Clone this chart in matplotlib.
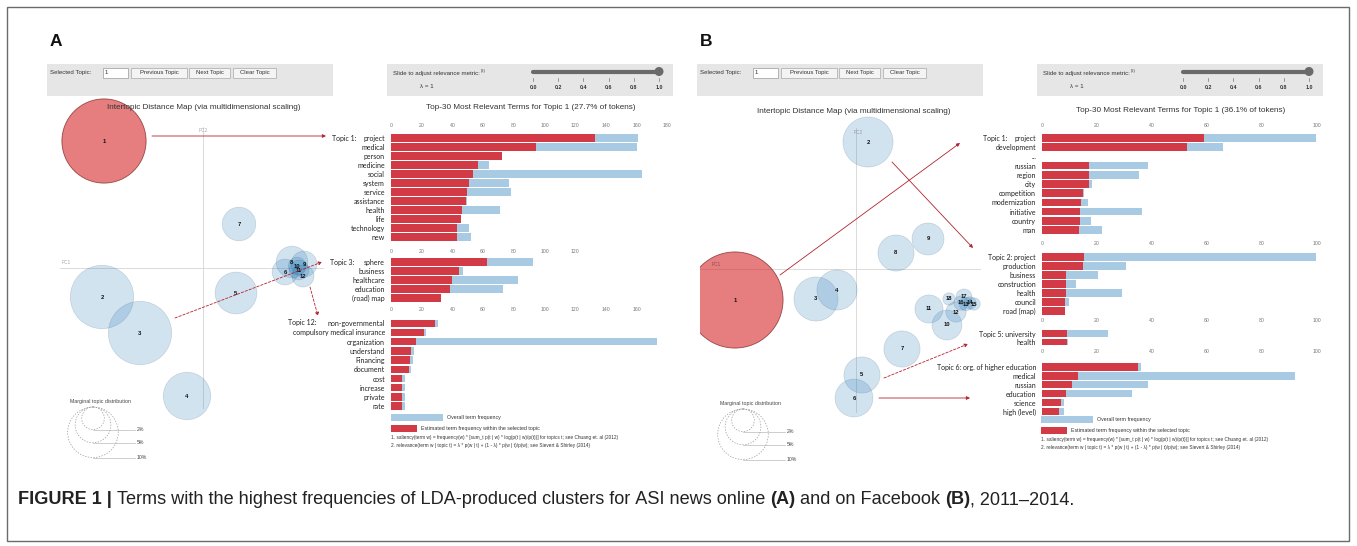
import matplotlib
matplotlib.use("Agg")
import matplotlib.pyplot as plt
from matplotlib.patches import Rectangle, Circle
from matplotlib.transforms import Bbox
from matplotlib import font_manager
import numpy as np

W, H = 1357, 546

# ======================= DATA =======================
# ---- Panel A : bar blocks ----
a1_terms = ["project", "medical", "person", "medicine", "social", "system", "service",
            "assistance", "health", "life", "technology", "new"]
a1_overall = [161.0, 160.0, 72.6, 63.8, 163.8, 76.9, 78.4, 49.5, 70.9, 45.9, 50.6, 52.1]
a1_topic = [132.8, 94.4, 72.6, 56.6, 53.2, 51.0, 49.5, 49.1, 46.3, 45.9, 43.3, 43.1]

a3_terms = ["sphere", "business", "healthcare", "education", "(road) map"]
a3_overall = [92.2, 47.0, 82.6, 73.0, 32.5]
a3_topic = [62.8, 44.2, 40.0, 38.2, 32.5]

a12_terms = ["non-governmental", "compulsory medical insurance", "organization", "understand",
             "Financing", "document", "cost", "increase", "private", "rate"]
a12_overall = [30.4, 22.8, 173.0, 14.8, 14.1, 13.3, 9.1, 9.1, 9.3, 9.1]
a12_topic = [28.9, 21.3, 16.5, 13.0, 12.2, 11.5, 7.4, 7.4, 7.4, 7.2]

# ---- Panel B : bar blocks ----
b1_terms = ["project", "development", "...", "russian", "region", "city", "competition",
            "modernization", "initiative", "country", "man"]
b1_overall = [99.8, 65.7, np.nan, 38.5, 35.2, 18.3, 15.2, 16.8, 36.4, 17.9, 21.7]
b1_topic = [59.0, 52.7, np.nan, 17.2, 17.2, 17.2, 14.8, 14.2, 13.9, 13.9, 13.6]

b2_terms = ["project", "production", "business", "construction", "health", "council", "road (map)"]
b2_overall = [99.8, 30.5, 20.5, 12.2, 29.0, 9.9, 8.2]
b2_topic = [15.2, 14.8, 8.8, 8.6, 8.6, 8.4, 8.2]

b5_terms = ["university", "health"]
b5_overall = [24.0, 9.5]
b5_topic = [9.1, 9.1]

b6_terms = ["org. of higher education", "medical", "russian", "education", "science", "high (level)"]
b6_overall = [36.1, 92.1, 38.5, 32.7, 7.9, 8.1]
b6_topic = [34.9, 13.0, 10.9, 8.8, 6.9, 6.2]

# ---- Intertopic distance maps (PC1, PC2, marginal share in %) ----
a_topics = [1, 2, 3, 4, 5, 6, 7, 8, 9, 10, 11, 12]
a_pc1 = [-0.099, -0.101, -0.063, -0.016, 0.033, 0.082, 0.036, 0.089, 0.101, 0.094, 0.096, 0.100]
a_pc2 = [0.127, -0.029, -0.065, -0.128, -0.025, -0.004, 0.044, 0.006, 0.004, 0.002, -0.002, -0.008]
a_share = [27.7, 15.7, 15.7, 8.8, 6.8, 2.6, 4.4, 3.9, 2.6, 1.2, 1.5, 1.9]

b_topics = list(range(1, 19))
b_pc1 = [-0.121, 0.012, -0.040, -0.019, 0.006, -0.002, 0.046, 0.040, 0.072, 0.091, 0.073,
         0.100, 0.110, 0.114, 0.118, 0.105, 0.108, 0.093]
b_pc2 = [-0.031, 0.127, -0.030, -0.021, -0.106, -0.129, -0.080, 0.016, 0.030, -0.056, -0.040,
         -0.043, -0.035, -0.034, -0.035, -0.034, -0.028, -0.030]
b_share = [36.1, 9.8, 7.6, 6.3, 5.1, 5.6, 5.1, 5.1, 4.0, 3.5, 3.1, 1.6, 0.7, 0.6, 0.6, 0.8, 1.0, 0.6]

guide_shares = [2, 5, 10]
guide_labels = ["2%", "5%", "10%"]
lambda_ticks = [0.0, 0.2, 0.4, 0.6, 0.8, 1.0]
lambda_value = 1.0

a_ticks_top = [0, 20, 40, 60, 80, 100, 120, 140, 160, 180]
a_ticks_mid = [0, 20, 40, 60, 80, 100, 120]
a_ticks_low = [0, 20, 40, 60, 80, 100, 120, 140, 160]
b_ticks = [0, 20, 40, 60, 80, 100]

# ======================= STYLE =======================
RED_BAR = "#d23a46"
BLUE_BAR = "#a8cae2"
BUB_BLUE = (31/255, 119/255, 180/255, 0.2)
BUB_RED = (214/255, 39/255, 40/255, 0.6)
ARROW = "#b3222d"
UI = "Liberation Sans"
LAB = "Lato"
R_SCALE = 0.0080        # bubble radius per sqrt(% share) in PC units
PX = 1000.0             # pixels per PC unit

fig = plt.figure(figsize=(W / 100, H / 100), dpi=100)
fig.patch.set_facecolor("white")
renderer = fig.canvas.get_renderer()


def px_axes(x0, y0, x1, y1):
    ax = fig.add_axes([x0 / W, 1 - y1 / H, (x1 - x0) / W, (y1 - y0) / H])
    ax.patch.set_alpha(0)
    return ax


def bar_block(x0, xmax, ppu, y_first, step, terms, overall, topic, labels=None,
              top_ticks=None, top_pad=4, bottom_ticks=None, bottom_pad=4, clipx=None):
    n = len(terms)
    ya = y_first - step / 2
    ax = px_axes(x0, ya, x0 + xmax * ppu, ya + n * step)
    ax.set_xlim(0, xmax)
    ax.set_ylim(n - 0.5, -0.5)
    idx = np.arange(n)
    ax.barh(idx, overall, height=0.82, color=BLUE_BAR, zorder=1)
    ax.barh(idx, topic, height=0.82, color=RED_BAR, zorder=2)
    for s in ax.spines.values():
        s.set_visible(False)
    ax.set_yticks(idx)
    ax.set_yticklabels(labels if labels is not None else terms, family=LAB, fontsize=5.0,
                       color="#222")
    ax.tick_params(axis="y", length=0, pad=4.3)
    if top_ticks is not None:
        ax.xaxis.tick_top()
        ax.set_xticks(top_ticks)
        ax.set_xticklabels([str(t) for t in top_ticks], family=UI, fontsize=3.7, color="#777")
        ax.tick_params(axis="x", length=0, pad=top_pad)
        labs = ax.get_xticklabels()
    else:
        ax.set_xticks([])
        labs = []
    if bottom_ticks is not None:
        sec = ax.secondary_xaxis("bottom")
        sec.set_xticks(bottom_ticks)
        sec.set_xticklabels([str(t) for t in bottom_ticks], family=UI, fontsize=3.7, color="#777")
        sec.tick_params(length=0, pad=bottom_pad)
        sec.spines["bottom"].set_visible(False)
        labs = list(labs) + list(sec.get_xticklabels())
    if clipx is not None:
        for lab in labs:
            lab.set_clip_box(Bbox.from_extents(0, 0, clipx, H))
            lab.set_clip_on(True)
    return ax


def bubble_map(x0, y0, x1, y1, ox, oy, topics, pc1, pc2, share, selected, pc1_px, pc2_px):
    ax = px_axes(x0, y0, x1, y1)
    ax.set_xlim((x0 - ox) / PX, (x1 - ox) / PX)
    ax.set_ylim((oy - y1) / PX, (oy - y0) / PX)
    ax.axis("off")
    ax.plot([(pc1_px[0] - ox) / PX, (pc1_px[1] - ox) / PX], [0, 0], color="#d4d4d4", lw=0.6, zorder=0)
    ax.plot([0, 0], [(oy - pc2_px[1]) / PX, (oy - pc2_px[0]) / PX], color="#d4d4d4", lw=0.6, zorder=0)
    for t, x, y, s in zip(topics, pc1, pc2, share):
        r = R_SCALE * np.sqrt(s)
        if t == selected:
            c = Circle((x, y), r, facecolor=BUB_RED, edgecolor=(0.45, 0.1, 0.1, 0.7), lw=0.6, zorder=2)
        else:
            c = Circle((x, y), r, facecolor=BUB_BLUE, edgecolor=(0.1, 0.25, 0.4, 0.18), lw=0.5, zorder=2)
        ax.add_patch(c)
    for t, x, y in zip(topics, pc1, pc2):
        ax.text(x, y, str(t), ha="center", va="center", fontsize=4.2, fontweight="bold",
                family=UI, color="#111", zorder=4)
    return ax


# ---------------- Bubble maps ----------------
bubble_map(47, 95, 335, 470, 203, 268, a_topics, a_pc1, a_pc2, a_share, 1, (60, 323), (127, 408))
bubble_map(700, 95, 990, 470, 856, 269, b_topics, b_pc1, b_pc2, b_share, 1, (700, 980), (128, 412))

# ---------------- Bars panel A ----------------
A_X0, A_PPU = 391, 1.535
bar_block(A_X0, 180, A_PPU, 138, 9.0, a1_terms, a1_overall, a1_topic,
          top_ticks=a_ticks_top, top_pad=4.0, bottom_ticks=a_ticks_mid, bottom_pad=5.5)
bar_block(A_X0, 180, A_PPU, 262, 9.0, a3_terms, a3_overall, a3_topic,
          bottom_ticks=a_ticks_low, bottom_pad=3.5)
bar_block(A_X0, 180, A_PPU, 323.3, 9.2, a12_terms, a12_overall, a12_topic)

# ---------------- Bars panel B ----------------
B_X0, B_PPU = 1042, 2.75
bar_block(B_X0, 100, B_PPU, 138, 9.2, b1_terms, b1_overall, b1_topic,
          top_ticks=b_ticks, top_pad=4.0, clipx=1321)
bar_block(B_X0, 100, B_PPU, 257, 9.0, b2_terms, b2_overall, b2_topic,
          labels=["Topic 2: " + b2_terms[0]] + b2_terms[1:],
          top_ticks=b_ticks, top_pad=5.0, bottom_ticks=b_ticks, bottom_pad=1.5, clipx=1321)
bar_block(B_X0, 100, B_PPU, 333.5, 8.5, b5_terms, b5_overall, b5_topic,
          labels=["Topic 5: " + b5_terms[0]] + b5_terms[1:],
          bottom_ticks=b_ticks, bottom_pad=2.0, clipx=1321)
bar_block(B_X0, 100, B_PPU, 367, 8.9, b6_terms, b6_overall, b6_topic,
          labels=["Topic 6: " + b6_terms[0]] + b6_terms[1:])

# ======================= OVERLAY (decorations, pixel coords) =======================
ov = fig.add_axes([0, 0, 1, 1])
ov.set_xlim(0, W)
ov.set_ylim(H, 0)
ov.axis("off")
ov.patch.set_alpha(0)


def T(x, y, s, size, ha="left", va="center", **kw):
    kw.setdefault("family", UI)
    kw.setdefault("color", "#222")
    return ov.text(x, y, s, fontsize=size, ha=ha, va=va, **kw)


def box(x0, y0, x1, y1, fc, ec="none", lw=0.6, z=1):
    ov.add_patch(Rectangle((x0, y0), x1 - x0, y1 - y0, facecolor=fc, edgecolor=ec, lw=lw, zorder=z))


# outer frame
box(7, 7, 1349, 541, "none", ec="#6b6b6b", lw=1.0)

for dx, lab, map_title, bar_title, ty_map, ty_bar in [
        (0, "A", "Intertopic Distance Map (via multidimensional scaling)",
         "Top-30 Most Relevant Terms for Topic 1 (27.7% of tokens)", 107.5, 107.5),
        (650, "B", "Intertopic Distance Map (via multidimensional scaling)",
         "Top-30 Most Relevant Terms for Topic 1 (36.1% of tokens)", 111.5, 110.0)]:
    T(50 + dx, 42, lab, 12.5, fontweight="bold", color="#111")
    # toolbar
    box(47 + dx, 64, 333 + dx, 96, "#e6e6e6")
    T(50 + dx, 72.8, "Selected Topic:", 4.4, color="#333")
    box(103 + dx, 67.8, 128 + dx, 78, "white", ec="#9a9a9a", lw=0.5, z=2)
    T(105 + dx, 72.8, "1", 4.4, color="#333", zorder=3)
    for bx0, bx1, txt in [(131, 187, "Previous Topic"), (189, 230, "Next Topic"), (233, 276, "Clear Topic")]:
        box(bx0 + dx, 67.8, bx1 + dx, 78, "#f4f4f4", ec="#a8a8a8", lw=0.5, z=2)
        T((bx0 + bx1) / 2 + dx, 72.8, txt, 4.3, ha="center", color="#333", zorder=3)
    # slider box
    box(387 + dx, 64, 673 + dx, 96, "#e6e6e6")
    t = T(393 + dx, 73.5, "Slide to adjust relevance metric:", 4.4, color="#333")
    tw = t.get_window_extent(renderer).width
    T(393 + dx + tw + 0.8, 71.0, "(2)", 2.8, color="#333")
    T(427 + dx, 87, "\u03bb = " + str(int(lambda_value)), 4.4, ha="center", color="#333")
    sx0, sx1 = 533 + dx, 659 + dx
    ov.plot([sx0, sx0 + (sx1 - sx0) * lambda_value], [71.5, 71.5], color="#6a6a6a", lw=3.0,
            solid_capstyle="round", zorder=3)
    ov.add_patch(Circle((sx0 + (sx1 - sx0) * lambda_value, 71.5), 3.8, color="#6a6a6a", zorder=4))
    for lt in lambda_ticks:
        xx = sx0 + (sx1 - sx0) * lt
        ov.plot([xx, xx], [77.5, 80.5], color="#777", lw=0.5, zorder=3)
        T(xx, 87.5, "%.1f" % lt, 3.8, ha="center", color="#333", fontweight="bold")
    # titles
    T(204 + dx, ty_map, map_title, 5.9, ha="center", color="#333")
    T(531 + dx, ty_bar, bar_title, 5.9, ha="center", color="#333")
    # marginal topic distribution legend
    gx, gtop = 93 + dx, 407 + (2 if dx else 0)
    T(101 + dx, gtop - 6, "Marginal topic distribution", 3.8, ha="center", color="#444")
    for sh, gl in zip(guide_shares, guide_labels):
        r = R_SCALE * PX * np.sqrt(sh)
        ov.add_patch(Circle((gx, gtop + r), r, facecolor="none", edgecolor="#9a9a9a", lw=0.5,
                            linestyle=(0, (2, 2)), zorder=3))
        ov.plot([gx, gx + 42], [gtop + 2 * r, gtop + 2 * r], color="#bbbbbb", lw=0.5, zorder=3)
        T(gx + 44, gtop + 2 * r, gl, 3.7, color="#444")
    # bar legend + footnotes
    ly = 414 if dx == 0 else 416
    box(391 + dx, ly, 443 + dx, ly + 7, BLUE_BAR, z=2)
    T(447 + dx, ly + 3.5, "Overall term frequency", 3.8, color="#333")
    box(391 + dx, ly + 11, 417 + dx, ly + 18, RED_BAR, z=2)
    T(421 + dx, ly + 14.5, "Estimated term frequency within the selected topic", 3.8, color="#333")
    T(391 + dx, ly + 24, "1. saliency(term w) = frequency(w) * [sum_t p(t | w) * log(p(t | w)/p(t))] "
      "for topics t; see Chuang et. al (2012)", 3.45, color="#333")
    T(391 + dx, ly + 32, "2. relevance(term w | topic t) = \u03bb * p(w | t) + (1 - \u03bb) * p(w | t)/p(w); "
      "see Sievert & Shirley (2014)", 3.45, color="#333")

# PC labels
T(203, 130, "PC2", 3.4, ha="center", color="#aaa")
T(62, 263, "PC1", 3.4, color="#aaa")
T(858, 132, "PC2", 3.4, ha="center", color="#999", zorder=5)
T(712, 264, "PC1", 3.4, color="#8a5050", zorder=5)

# topic prefixes
T(332, 138, "Topic 1:", 5.0, family=LAB)
T(330, 262, "Topic 3:", 5.0, family=LAB)
T(288, 322.5, "Topic 12:", 5.0, family=LAB)
T(983, 138, "Topic 1:", 5.0, family=LAB)


def arrow(p0, p1, ls="-"):
    ov.annotate("", xy=p1, xytext=p0,
                arrowprops=dict(arrowstyle="-|>", color=ARROW, lw=0.6, linestyle=ls,
                                mutation_scale=5, shrinkA=0, shrinkB=0), zorder=6)


arrow((152, 136), (326, 136))
arrow((175, 318), (322, 262), ls=(0, (3, 2)))
arrow((310, 287), (318, 316), ls=(0, (3, 2)))
arrow((780, 275), (960, 143))
arrow((892, 162), (973, 248))
arrow((884, 378), (968, 344), ls=(0, (3, 2)))
arrow((879, 398), (970, 398))

# ---------------- caption ----------------
try:
    font_manager.findfont("Liberation Sans Narrow", fallback_to_default=False)
    CAP = "Liberation Sans Narrow"
except Exception:
    CAP = "Liberation Sans"

pieces = [("FIGURE 1 |", "bold"),
          (" Terms with the highest frequencies of LDA-produced clusters for ASI news online ", "normal"),
          ("(A)", "bold"), (" and on Facebook ", "normal"), ("(B)", "bold"), (", 2011\u20132014.", "normal")]


def caption_width(size):
    tot = 0
    for s, w in pieces:
        tt = ov.text(0, 0, s.replace(" ", "\u00a0"), fontsize=size, family=CAP, fontweight=w)
        tot += tt.get_window_extent(renderer).width
        tt.remove()
    return tot


size = 10.0
size = size * 1065.0 / caption_width(size)
x = 18.0
for s, w in pieces:
    tt = ov.text(x, 500, s.replace(" ", "\u00a0"), fontsize=size, family=CAP, fontweight=w,
                 color="#222", va="center", ha="left")
    x += tt.get_window_extent(renderer).width

fig.savefig("out.png", dpi=100, facecolor="white")
